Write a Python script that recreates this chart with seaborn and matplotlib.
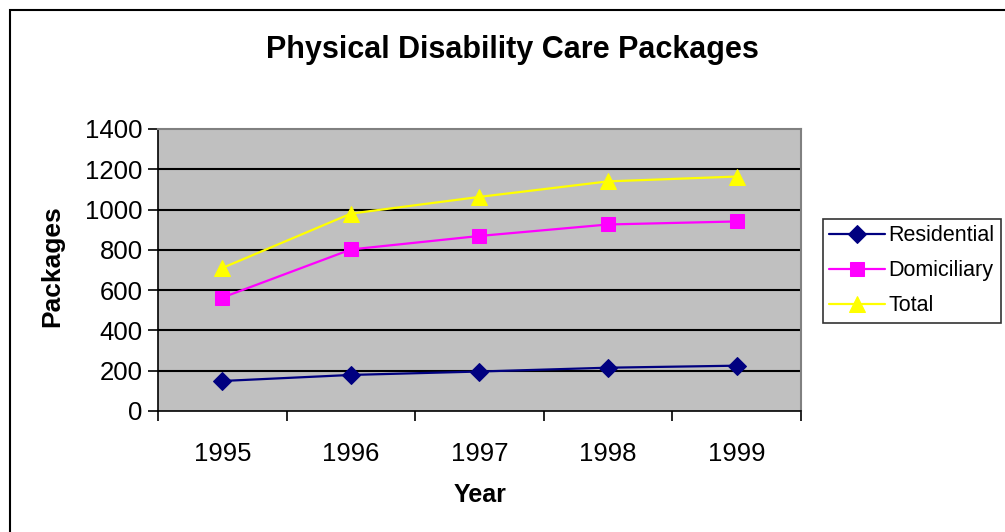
import matplotlib
matplotlib.use("Agg")
import matplotlib.pyplot as plt
import matplotlib.patches as mpatches
import seaborn as sns
import pandas as pd

years = [1995, 1996, 1997, 1998, 1999]
residential = [149, 179, 196, 215, 225]
domiciliary = [563, 802, 869, 926, 941]
total = [710, 980, 1063, 1140, 1164]
series_names = ["Residential", "Domiciliary", "Total"]
y_ticks = [0, 200, 400, 600, 800, 1000, 1200, 1400]

sns.set_theme(style="white")
plt.rcParams["font.family"] = ["Liberation Sans", "DejaVu Sans"]
plt.rcParams["text.color"] = "black"
plt.rcParams["xtick.color"] = "black"
plt.rcParams["ytick.color"] = "black"
plt.rcParams["axes.labelcolor"] = "black"

df = pd.DataFrame({
    "Year": years * 3,
    "Packages": residential + domiciliary + total,
    "Series": [n for n in series_names for _ in years],
})

W, H = 1005, 532
fig = plt.figure(figsize=(W / 100, H / 100), dpi=100)
fig.patch.set_facecolor("white")

# plot area in pixel coordinates
L, R, T, B = 158, 801, 129, 411
ax = fig.add_axes([L / W, 1 - B / H, (R - L) / W, (B - T) / H])
ax.set_facecolor("#C0C0C0")

palette = {"Residential": "#000080", "Domiciliary": "#FF00FF", "Total": "#FFFF00"}
markers = {"Residential": "D", "Domiciliary": "s", "Total": "^"}
sizes = {"Residential": 9, "Domiciliary": 10, "Total": 12}

for name in series_names:
    sub = df[df["Series"] == name]
    sns.lineplot(data=sub, x="Year", y="Packages", ax=ax, color=palette[name],
                 marker=markers[name], markersize=sizes[name],
                 markeredgecolor=palette[name], linewidth=1.6, label=name,
                 zorder=3)

ax.set_ylim(0, 1400)
ax.set_xlim(1994.5, 1999.5)
ax.set_yticks(y_ticks)
ax.set_yticklabels([str(v) for v in y_ticks], fontsize=18.5)
for v in y_ticks[1:-1]:
    ax.axhline(v, color="black", linewidth=1.5, zorder=1)

# category axis: boundary ticks, labels centred between them
ax.set_xticks([1994.5 + i for i in range(6)])
ax.set_xticklabels([])
ax.set_xticks(years, minor=True)
ax.set_xticklabels([str(y) for y in years], minor=True, fontsize=18.5)
ax.tick_params(axis="x", which="major", direction="out", length=7, width=1.2,
               color="black", bottom=True)
ax.tick_params(axis="x", which="minor", length=0, pad=22)
ax.tick_params(axis="y", direction="out", length=7, width=1.2, color="black",
               left=True, pad=4)

for side in ["left", "bottom"]:
    ax.spines[side].set_color("black")
    ax.spines[side].set_linewidth(1.2)
for side in ["top", "right"]:
    ax.spines[side].set_color("#808080")
    ax.spines[side].set_linewidth(1.5)

ax.set_xlabel("")
ax.set_ylabel("")
fig.text(52 / W, 1 - 266 / H, "Packages", rotation=90, fontsize=19,
         fontweight="bold", ha="center", va="center")
fig.text(480 / W, 1 - 495 / H, "Year", fontsize=18, fontweight="bold",
         ha="center", va="center")
fig.text(512 / W, 1 - 50 / H, "Physical Disability Care Packages",
         fontsize=22, fontweight="bold", ha="center", va="center")

leg = ax.legend(loc="upper left", bbox_to_anchor=(823 / W, 1 - 219 / H),
                bbox_transform=fig.transFigure, borderaxespad=0,
                fontsize=15.5, frameon=True, fancybox=False, handlelength=2.6,
                handletextpad=0.15, labelspacing=0.65, borderpad=0.3)
leg.get_frame().set_edgecolor("black")
leg.get_frame().set_linewidth(1.2)

# outer chart border
fig.patches.append(mpatches.Rectangle((10 / W, -0.05), 1.1, 1 - 10 / H + 0.05,
                                      transform=fig.transFigure, fill=False,
                                      edgecolor="black", linewidth=1.5))

fig.savefig("out.png", dpi=100)
